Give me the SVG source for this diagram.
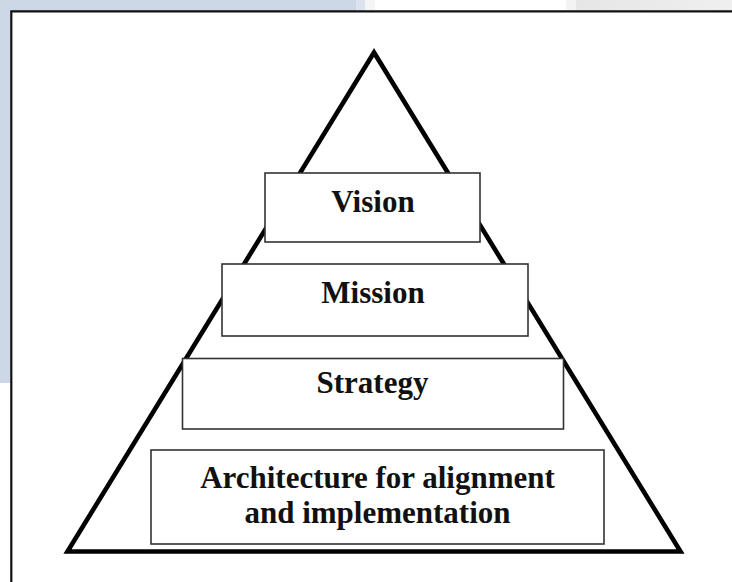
<svg xmlns="http://www.w3.org/2000/svg" width="732" height="582" viewBox="0 0 732 582">
  <defs>
    <linearGradient id="greyTop" x1="0" y1="0" x2="1" y2="0">
      <stop offset="0" stop-color="#e6e6e6"/>
      <stop offset="1" stop-color="#efefef"/>
    </linearGradient>
  </defs>
  <style>
    .box { fill: #ffffff; stroke: #333333; stroke-width: 1.6; }
    .lbl { font-family: "Liberation Serif", "Times New Roman", serif; font-weight: bold; font-size: 31px; fill: #111111; text-anchor: middle; }
  </style>
  <!-- background -->
  <rect x="0" y="0" width="732" height="582" fill="#ffffff"/>
  <rect x="0" y="0" width="356" height="11" fill="#cdd8e6"/>
  <rect x="356" y="0" width="9" height="11" fill="#dde3ec"/>
  <rect x="365" y="0" width="10" height="11" fill="#f4f5f7"/>
  <rect x="566" y="0" width="10" height="11" fill="#f3f3f3"/>
  <rect x="576" y="0" width="156" height="11" fill="url(#greyTop)"/>
  <rect x="0" y="0" width="10.5" height="383" fill="#cdd8e6"/>
  <!-- frame -->
  <path d="M11.3 582 V11.3 H732" fill="none" stroke="#111111" stroke-width="2.2"/>
  <!-- pyramid -->
  <g id="pyramid">
    <polygon points="374,52.5 67.5,551.5 680.5,551.5" fill="#ffffff" stroke="#000000" stroke-width="4.6" stroke-linejoin="miter"/>
  </g>
  <g id="connectors"></g>
  <g id="vision">
    <rect class="box" x="265" y="173" width="215" height="69"/>
    <text class="lbl" x="373" y="211.7">Vision</text>
  </g>
  <g id="mission">
    <rect class="box" x="222" y="264" width="306" height="72"/>
    <text class="lbl" x="373" y="303.3">Mission</text>
  </g>
  <g id="strategy">
    <rect class="box" x="182.5" y="358.5" width="381" height="70.5"/>
    <text class="lbl" x="372.5" y="393.3">Strategy</text>
  </g>
  <g id="architecture">
    <rect class="box" x="151" y="450" width="453" height="94"/>
    <text class="lbl" x="377.5" y="488.3">Architecture for alignment</text>
    <text class="lbl" x="377.5" y="523.3">and implementation</text>
  </g>
</svg>
